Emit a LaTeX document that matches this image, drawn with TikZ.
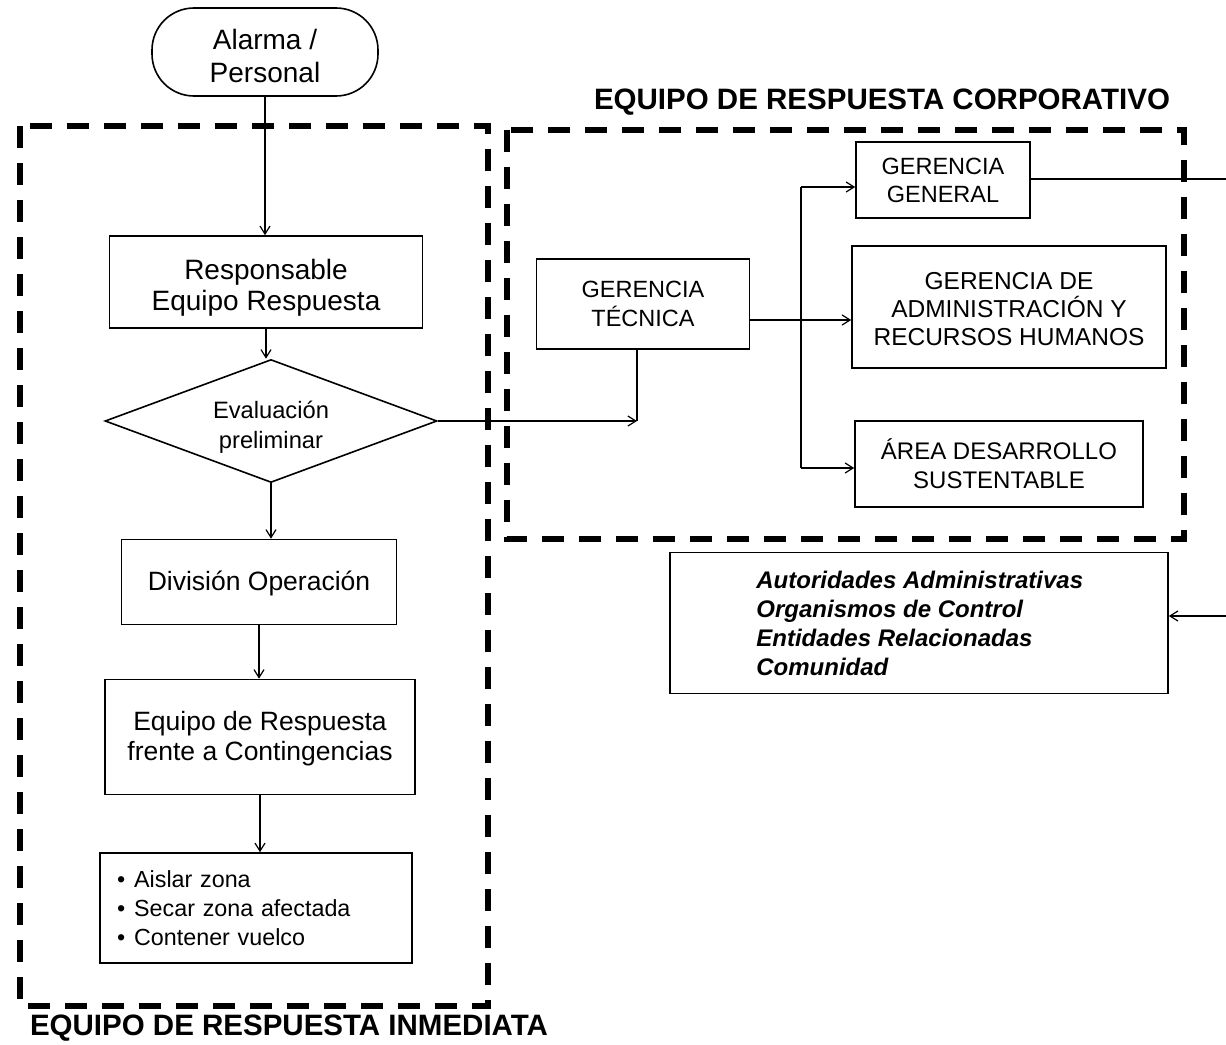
\documentclass[tikz,border=0pt]{standalone}
\usepackage{fontspec}
\setmainfont{Liberation Sans}
\usetikzlibrary{shapes.geometric,arrows.meta}
\newcommand{\fs}[2]{\fontsize{#1}{#2}\selectfont}
% invisible strut that lowers a multi-line label inside its box
\newcommand{\lift}[1]{\rule{0pt}{#1}}
\begin{document}
\begin{tikzpicture}[x=1pt,y=-1pt,
  box/.style={draw,line width=1.6pt,inner sep=0pt,align=center},
  arr/.style={line width=1.4pt,-{Straight Barb[length=8pt,width=10pt,line width=1.2pt]}},
  conn/.style={line width=1.4pt},
  dashbox/.style={line width=6pt,dash pattern=on 22pt off 15pt},
  heading/.style={font=\fs{29.5}{33}\bfseries}]
\useasboundingbox (0,0) rectangle (1226,1044);
\fill[white] (0,0) rectangle (1226,1044);

% group frames
\draw[dashbox] (20,126) rectangle (488,1006);
\draw[dashbox] (507,130) rectangle (1184,539);
\node[heading] (hcorp) at (882,102) {EQUIPO DE RESPUESTA CORPORATIVO};
\node[heading] (hinm) at (289,1028) {EQUIPO DE RESPUESTA INMEDIATA};

% immediate response chain
\node[box,rounded corners=42pt,minimum width=226pt,minimum height=88pt,font=\fs{28}{33}] (alarma) at (265,52) {\lift{28pt}Alarma /\\Personal};
\node[box,minimum width=313pt,minimum height=92pt,font=\fs{28}{31}] (resp) at (266,282) {\lift{32pt}Responsable\\Equipo Respuesta};
\node[box,diamond,aspect=2.7,minimum width=332pt,minimum height=123pt,font=\fs{23.7}{30}] (eval) at (271,421) {\lift{30pt}Evaluación\\preliminar};
\node[box,minimum width=275pt,minimum height=85pt,font=\fs{26.5}{30}] (div) at (259,582) {\lift{22pt}División Operación};
\node[box,minimum width=310pt,minimum height=115pt,font=\fs{26.5}{30}] (equipo) at (260,737) {\lift{22pt}Equipo de Respuesta\\frente a Contingencias};
\node[draw,line width=1.6pt,inner xsep=17pt,inner ysep=0pt,text width=278pt,minimum height=110pt,align=left,font=\fs{23.3}{29}] (acc) at (256,908)
  {\textbullet\hspace{9pt}Aislar zona\\\textbullet\hspace{9pt}Secar zona afectada\\\textbullet\hspace{9pt}Contener vuelco};

% corporate response
\node[box,minimum width=213pt,minimum height=90pt,font=\fs{23.5}{29}] (gt) at (643,304) {GERENCIA\\TÉCNICA};
\node[box,minimum width=174pt,minimum height=76pt,font=\fs{23.5}{28}] (gg) at (943,180) {GERENCIA\\GENERAL};
\node[box,minimum width=314pt,minimum height=122pt,font=\fs{24.5}{28}] (gadm) at (1009,307) {\lift{22pt}GERENCIA DE\\ADMINISTRACIÓN Y\\RECURSOS HUMANOS};
\node[box,minimum width=288pt,minimum height=86pt,font=\fs{24}{29}] (ads) at (999,464) {ÁREA DESARROLLO\\SUSTENTABLE};

% external parties
\node[draw,line width=1.6pt,minimum width=498pt,minimum height=141pt] (aut) at (919,623) {};
\node[anchor=west,align=left,inner sep=0pt,font=\fs{24}{29}\bfseries\itshape] (autxt) at ([xshift=87pt]aut.west)
  {Autoridades Administrativas\\Organismos de Control\\Entidades Relacionadas\\Comunidad};

% connectors
\draw[arr] (alarma.south) -- (alarma.south |- resp.north);
\draw[arr] (resp.south) -- (resp.south |- eval.north);
\draw[arr] (eval.south) -- (eval.south |- div.north);
\draw[arr] (div.south) -- (div.south |- equipo.north);
\draw[arr] (equipo.south) -- (equipo.south |- acc.north);

\coordinate (jt) at (637,421);
\draw[arr] (eval.east) -- (jt);
\draw[conn] (jt) -- (jt |- gt.south);

\coordinate (bus) at (801,320);
\coordinate (bustop) at (801,187);
\coordinate (busbot) at (801,468);
\draw[arr] (gt.east |- bus) -- (gadm.west |- bus);
\draw[conn] (bustop) -- (busbot);
\draw[arr] (bustop) -- (gg.west |- bustop);
\draw[arr] (busbot) -- (ads.west |- busbot);

\coordinate (outgg) at (1226,179);
\coordinate (inaut) at (1226,616);
\draw[conn] (gg.east |- outgg) -- (outgg);
\draw[arr] (inaut) -- (aut.east |- inaut);
\end{tikzpicture}
\end{document}
